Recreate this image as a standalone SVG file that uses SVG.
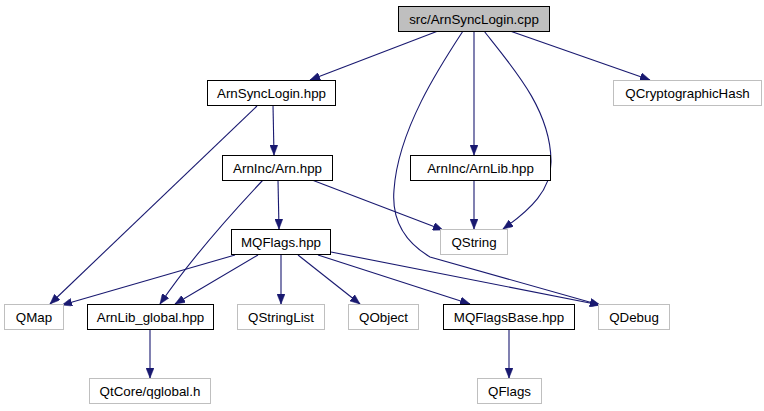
<svg xmlns="http://www.w3.org/2000/svg" width="764" height="411" viewBox="0 0 764 411">
<style>
.n rect{fill:#ffffff;stroke:#000000;stroke-width:1}
.n.ext rect{stroke:#bfbfbf}
.n.root rect{fill:#bfbfbf}
.n text{font-family:"Liberation Sans",Arial,sans-serif;font-size:13.33px;fill:#000000;text-anchor:middle}
.e path{fill:none;stroke:#191970;stroke-width:1.1}
</style>
<defs>
<marker id="ah" markerUnits="userSpaceOnUse" markerWidth="11" markerHeight="8" refX="10" refY="4" orient="auto">
<path d="M0,0 L10,4 L0,8 z" fill="#191970" stroke="#191970" stroke-width="0.5"/>
</marker>
</defs>
<rect x="0" y="0" width="764" height="411" fill="#ffffff"/>
<g id="connectors" class="e">
<path marker-end="url(#ah)" d="M438,31 L310,80"/>
<path marker-end="url(#ah)" d="M510,31 L650,80"/>
<path marker-end="url(#ah)" d="M474,31 L474,155"/>
<path marker-end="url(#ah)" d="M484,31 C515,70 550,110 551,160 C552,190 530,210 503,229"/>
<path marker-end="url(#ah)" d="M463,31 C440,66 398,130 394,190 C391,225 410,245 430,257 L600,305"/>
<path marker-end="url(#ah)" d="M273,105 L274,155"/>
<path marker-end="url(#ah)" d="M257,106 L50,304"/>
<path marker-end="url(#ah)" d="M278,180 L279,229"/>
<path marker-end="url(#ah)" d="M263,180 C230,215 190,260 160,304"/>
<path marker-end="url(#ah)" d="M312,180 L443,230"/>
<path marker-end="url(#ah)" d="M474,180 L474,229"/>
<path marker-end="url(#ah)" d="M235,255 L62,305"/>
<path marker-end="url(#ah)" d="M258,255 L175,304"/>
<path marker-end="url(#ah)" d="M281,255 L281,304"/>
<path marker-end="url(#ah)" d="M298,255 L360,304"/>
<path marker-end="url(#ah)" d="M318,255 L470,304"/>
<path marker-end="url(#ah)" d="M331,252 L600,305"/>
<path marker-end="url(#ah)" d="M150,330 L150,378"/>
<path marker-end="url(#ah)" d="M509,330 L509,378"/>
</g>
<g id="node_root" class="n root"><rect x="398.5" y="6.5" width="151" height="25"/><text x="474" y="23.5">src/ArnSyncLogin.cpp</text></g>
<g id="node_ArnSyncLogin_hpp" class="n"><rect x="207.5" y="80.5" width="128" height="25"/><text x="271.5" y="97.5">ArnSyncLogin.hpp</text></g>
<g id="node_QCryptographicHash" class="n ext"><rect x="613.5" y="80.5" width="148" height="25"/><text x="687.5" y="97.5">QCryptographicHash</text></g>
<g id="node_Arn_hpp" class="n"><rect x="222.5" y="155.5" width="110" height="25"/><text x="277.5" y="172.5">ArnInc/Arn.hpp</text></g>
<g id="node_ArnLib_hpp" class="n"><rect x="410.5" y="155.5" width="140" height="25"/><text x="480.5" y="172.5">ArnInc/ArnLib.hpp</text></g>
<g id="node_MQFlags_hpp" class="n"><rect x="231.5" y="229.5" width="99" height="25"/><text x="281" y="246.5">MQFlags.hpp</text></g>
<g id="node_QString" class="n ext"><rect x="440.5" y="229.5" width="67" height="25"/><text x="474" y="246.5">QString</text></g>
<g id="node_QMap" class="n ext"><rect x="4.5" y="304.5" width="59" height="25"/><text x="34" y="321.5">QMap</text></g>
<g id="node_ArnLib_global_hpp" class="n"><rect x="87.5" y="304.5" width="126" height="25"/><text x="150.5" y="321.5">ArnLib_global.hpp</text></g>
<g id="node_QStringList" class="n ext"><rect x="237.5" y="304.5" width="87" height="25"/><text x="281" y="321.5">QStringList</text></g>
<g id="node_QObject" class="n ext"><rect x="348.5" y="304.5" width="70" height="25"/><text x="383.5" y="321.5">QObject</text></g>
<g id="node_MQFlagsBase_hpp" class="n"><rect x="443.5" y="304.5" width="131" height="25"/><text x="509" y="321.5">MQFlagsBase.hpp</text></g>
<g id="node_QDebug" class="n ext"><rect x="598.5" y="304.5" width="71" height="25"/><text x="634" y="321.5">QDebug</text></g>
<g id="node_QtCore_qglobal_h" class="n ext"><rect x="89.5" y="378.5" width="121" height="25"/><text x="150" y="395.5">QtCore/qglobal.h</text></g>
<g id="node_QFlags" class="n ext"><rect x="477.5" y="378.5" width="64" height="25"/><text x="509.5" y="395.5">QFlags</text></g>
</svg>
